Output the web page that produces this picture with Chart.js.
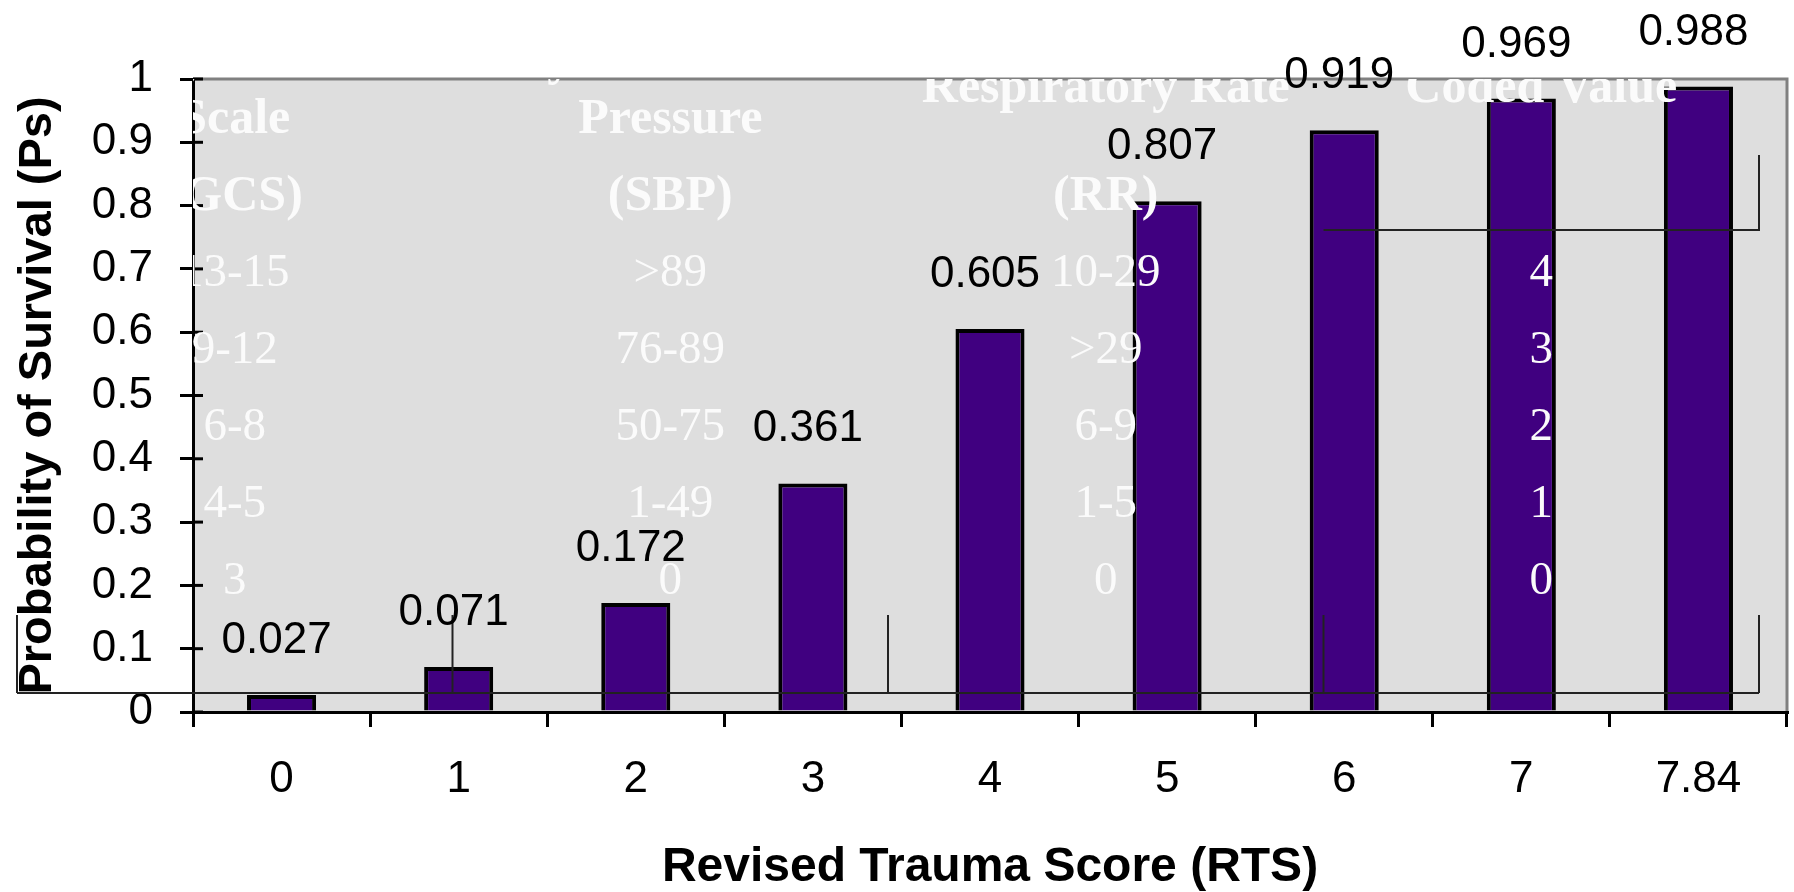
<!DOCTYPE html>
<html>
<head>
<meta charset="utf-8">
<title>Revised Trauma Score</title>
<script src="https://cdn.jsdelivr.net/npm/chart.js@4.4.1/dist/chart.umd.min.js"></script>
<style>
  body { margin: 0; background: #ffffff; }
  canvas { display: block; }
</style>
</head>
<body>
<canvas id="myChart" width="1794" height="892"></canvas>
<script>
//chart values
var rtsLabels = ["0", "1", "2", "3", "4", "5", "6", "7", "7.84"];
var survival = [0.027, 0.071, 0.172, 0.361, 0.605, 0.807, 0.919, 0.969, 0.988];

//the table text that sits over the plot
var gcsHead = ["Glasgow Coma", "Scale", "(GCS)"];
var sbpHead = ["Systolic Blood", "Pressure", "(SBP)"];
var rrHead = ["Respiratory Rate", "(RR)"];
var codedHead = ["Coded Value"];
var gcsRows = ["13-15", "9-12", "6-8", "4-5", "3"];
var sbpRows = [">89", "76-89", "50-75", "1-49", "0"];
var rrRows = ["10-29", ">29", "6-9", "1-5", "0"];
var codedRows = ["4", "3", "2", "1", "0"];

var sansFont = "'Liberation Sans', Arial, sans-serif";
var serifFont = "'Liberation Serif', 'Times New Roman', serif";

//plot background and the grey frame
var backPlugin = {
  id: "backPlugin",
  beforeDraw: function(chart) {
    var ctx = chart.ctx;
    var a = chart.chartArea;
    ctx.save();
    ctx.fillStyle = "#dedede";
    ctx.fillRect(a.left, a.top, a.right - a.left, a.bottom - a.top);
    ctx.strokeStyle = "#808080";
    ctx.lineWidth = 3;
    ctx.beginPath();
    ctx.moveTo(a.left, a.top);
    ctx.lineTo(a.right, a.top);
    ctx.lineTo(a.right, a.bottom);
    ctx.stroke();
    ctx.restore();
  },
  beforeDatasetsDraw: function(chart) {
    //small tick stubs inside the value axis
    var ctx = chart.ctx;
    var y = chart.scales.y;
    ctx.save();
    ctx.strokeStyle = "#000000";
    ctx.lineWidth = 3;
    for (var i = 0; i < y.ticks.length; i++) {
      var py = y.getPixelForValue(y.ticks[i].value);
      ctx.beginPath();
      ctx.moveTo(y.right, py);
      ctx.lineTo(y.right + 10, py);
      ctx.stroke();
    }
    ctx.restore();
  }
};

function drawColumn(ctx, x, heads, headBase, rows, rowBase) {
  ctx.font = "bold 50px " + serifFont;
  for (var i = 0; i < heads.length; i++) {
    ctx.fillText(heads[i], x, headBase[i]);
  }
  ctx.font = "47px " + serifFont;
  for (var j = 0; j < rows.length; j++) {
    ctx.fillText(rows[j], x, rowBase[j]);
  }
}

var overPlugin = {
  id: "overPlugin",
  afterDatasetsDraw: function(chart) {
    var ctx = chart.ctx;
    var a = chart.chartArea;
    var tableLeft = 17;
    var colW = 435.5;
    var rowBase = [286, 363, 440, 517, 594];

    //white table text, clipped to the plot
    ctx.save();
    ctx.beginPath();
    ctx.rect(a.left, a.top, a.right - a.left, a.bottom - a.top);
    ctx.clip();
    ctx.fillStyle = "#fbfbfb";
    ctx.textAlign = "center";
    ctx.textBaseline = "alphabetic";
    drawColumn(ctx, tableLeft + colW * 0.5, gcsHead, [74, 133, 210], gcsRows, rowBase);
    drawColumn(ctx, tableLeft + colW * 1.5, sbpHead, [74, 133, 210], sbpRows, rowBase);
    drawColumn(ctx, tableLeft + colW * 2.5, rrHead, [102, 210], rrRows, rowBase);
    drawColumn(ctx, tableLeft + colW * 3.5, codedHead, [102], codedRows, rowBase);
    ctx.restore();

    //left over table borders
    ctx.save();
    ctx.strokeStyle = "#222222";
    ctx.lineWidth = 2;
    ctx.beginPath();
    ctx.moveTo(tableLeft, 693);
    ctx.lineTo(tableLeft + colW * 4, 693);
    for (var c = 0; c <= 4; c++) {
      ctx.moveTo(tableLeft + colW * c, 615);
      ctx.lineTo(tableLeft + colW * c, 693);
    }
    ctx.moveTo(tableLeft + colW * 3, 230);
    ctx.lineTo(tableLeft + colW * 4, 230);
    ctx.lineTo(tableLeft + colW * 4, 155);
    ctx.stroke();
    ctx.restore();

    //value labels over the bars
    var meta = chart.getDatasetMeta(0);
    ctx.save();
    ctx.fillStyle = "#000000";
    ctx.font = "44px " + sansFont;
    ctx.textAlign = "center";
    ctx.textBaseline = "alphabetic";
    for (var i = 0; i < meta.data.length; i++) {
      var bar = meta.data[i];
      ctx.fillText(String(survival[i]), bar.x - 5, bar.y - 42);
    }
    ctx.restore();
  }
};

var ctx = document.getElementById("myChart").getContext("2d");
var myChart = new Chart(ctx, {
  type: "bar",
  data: {
    labels: rtsLabels,
    datasets: [{
      label: "Ps",
      data: survival,
      backgroundColor: "#400080",
      borderColor: "#000000",
      borderWidth: 4,
      barPercentage: 0.39,
      categoryPercentage: 1.0
    }]
  },
  options: {
    responsive: false,
    animation: false,
    devicePixelRatio: 1,
    layout: { padding: { top: 79, right: 7, left: 0, bottom: 0 } },
    plugins: {
      legend: { display: false },
      tooltip: { enabled: false }
    },
    scales: {
      x: {
        grid: { drawOnChartArea: false, color: "#000000", lineWidth: 3, tickLength: 15, offset: true },
        border: { color: "#000000", width: 3 },
        ticks: { color: "#000000", font: { family: sansFont, size: 44 }, padding: 26, maxRotation: 0 },
        title: {
          display: true,
          text: "Revised Trauma Score (RTS)",
          color: "#000000",
          font: { family: sansFont, size: 48, weight: "bold", lineHeight: 1 },
          padding: { top: 0, bottom: 0 }
        },
        afterFit: function(scale) { scale.height = 180; }
      },
      y: {
        min: 0,
        max: 1,
        grid: { drawOnChartArea: false, color: "#000000", lineWidth: 3, tickLength: 13 },
        border: { color: "#000000", width: 3 },
        ticks: {
          stepSize: 0.1,
          color: "#000000",
          font: { family: sansFont, size: 44 },
          padding: 27,
          callback: function(value) { return String(Math.round(value * 10) / 10); }
        },
        title: {
          display: true,
          text: "Probability of Survival (Ps)",
          color: "#000000",
          font: { family: sansFont, size: 47, weight: "bold", lineHeight: 1 },
          padding: { top: 15, bottom: 0 }
        },
        afterFit: function(scale) { scale.width = 193; }
      }
    }
  },
  plugins: [backPlugin, overPlugin]
});
</script>
</body>
</html>
